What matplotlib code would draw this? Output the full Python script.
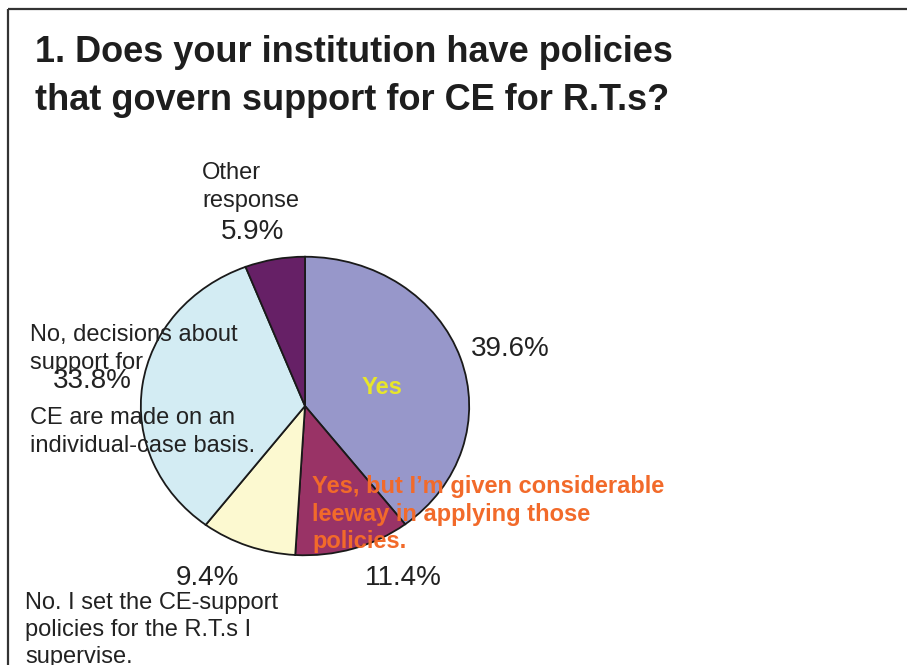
import matplotlib
matplotlib.use("Agg")
import matplotlib.pyplot as plt

plt.rcParams['font.family'] = ['Liberation Sans', 'DejaVu Sans']

# Survey responses, clockwise from 12 o'clock
categories = [
    "Yes",
    "Yes, but I\u2019m given considerable\nleeway in applying those\npolicies.",
    "No. I set the CE-support\npolicies for the R.T.s I\nsupervise.",
    "No, decisions about\nsupport for\nCE are made on an\nindividual-case basis.",
    "Other\nresponse",
]
shares = [39.6, 11.4, 9.4, 33.8, 5.9]
colors = ["#9797CA", "#993366", "#FCF9D0", "#D3ECF3", "#662066"]

W, H = 907, 665
fig = plt.figure(figsize=(W / 100, H / 100), dpi=100)

# Full-figure overlay in pixel coordinates for frame and labels
bg = fig.add_axes([0, 0, 1, 1])
bg.set_xlim(0, W)
bg.set_ylim(H, 0)
bg.axis("off")

# Frame lines (top and left)
bg.plot([8, W], [9, 9], color="#333333", lw=1.6, solid_capstyle="butt")
bg.plot([8, 8], [9, H], color="#333333", lw=1.6, solid_capstyle="butt")

# Title
title_kw = dict(fontsize=26, fontweight="bold", color="#1e1e1e", va="center", ha="left")
bg.text(35, 53, "1. Does your institution have policies", **title_kw)
bg.text(35, 100, "that govern support for CE for R.T.s?", **title_kw)

# Elliptical pie: axes box in pixels
px0, py0, px1, py1 = 140, 256, 470, 556
pie_ax = fig.add_axes([px0 / W, 1 - py1 / H, (px1 - px0) / W, (py1 - py0) / H])
pie_ax.pie(shares, colors=colors, startangle=90, counterclock=False, radius=1,
           wedgeprops=dict(edgecolor="#1a1a1a", linewidth=1.3))
pie_ax.set_aspect("auto")
pie_ax.set_xlim(-1.005, 1.005)
pie_ax.set_ylim(-1.005, 1.005)
pie_ax.axis("off")

pct = [f"{v:.1f}%" for v in shares]
txt = "#222222"
fs = 17
pfs = 20
ls = 1.3

# Other response
bg.text(202, 187, categories[4], fontsize=fs, color=txt, ha="left", va="center",
        linespacing=ls, zorder=5)
bg.text(253, 232, pct[4], fontsize=pfs, color=txt, ha="center", va="center", zorder=5)

# Yes
bg.text(471, 349, pct[0], fontsize=pfs, color=txt, ha="left", va="center", zorder=5)
bg.text(382, 387, categories[0], fontsize=17, fontweight="bold", color="#E8E62A",
        ha="center", va="center", zorder=5)

# Yes, but ...
bg.text(312, 514, categories[1], fontsize=17, fontweight="bold", color="#F26A2A",
        ha="left", va="center", linespacing=1.27, zorder=5)
bg.text(403, 578, pct[1], fontsize=pfs, color=txt, ha="center", va="center", zorder=5)

# No, I set ...
bg.text(207, 578, pct[2], fontsize=pfs, color=txt, ha="center", va="center", zorder=5)
bg.text(25, 630, categories[2], fontsize=fs, color=txt, ha="left", va="center",
        linespacing=ls, zorder=5)

# No, decisions ...
lines = categories[3].split("\n")
bg.text(30, 349, "\n".join(lines[:2]), fontsize=fs, color=txt, ha="left", va="center",
        linespacing=ls, zorder=5)
bg.text(30, 432, "\n".join(lines[2:]), fontsize=fs, color=txt, ha="left", va="center",
        linespacing=ls, zorder=5)
bg.text(92, 381, pct[3], fontsize=pfs, color=txt, ha="center", va="center", zorder=5)

bg.set_zorder(pie_ax.get_zorder() + 1)
bg.patch.set_visible(False)

fig.savefig("out.png", dpi=100)
